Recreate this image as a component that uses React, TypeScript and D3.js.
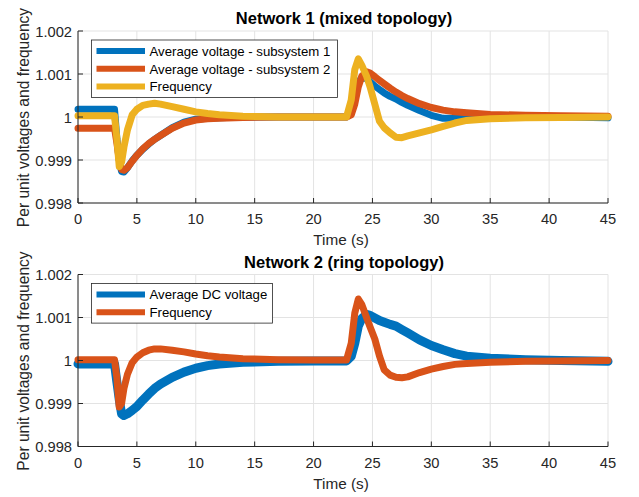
import React from 'react';
import * as d3 from 'd3';

// time samples (s) shared by every series
const time = [0, 3.1, 3.3, 3.5, 3.7, 3.9, 4.2, 4.6, 5, 5.5, 6, 6.5, 7, 8, 9, 10, 11, 12, 14, 17, 20, 22.8, 23.2, 23.5, 23.8, 24.1, 24.5, 24.8, 25.2, 25.6, 26, 26.5, 27, 27.5, 28, 29, 30, 31, 32, 33, 35, 38, 41, 45];

// Network 1 (mixed topology)
const net1Volt1 = [1.00018, 1.00018, 0.9995, 0.999, 0.99873, 0.99872, 0.99882, 0.99898, 0.99911, 0.99925, 0.99937, 0.99948, 0.99957, 0.99975, 0.99988, 0.99995, 0.99997, 0.99998, 1.0, 1.0, 1.0, 1.0, 1.0001, 1.0004, 1.0008, 1.00092, 1.0009, 1.00082, 1.00072, 1.00064, 1.00056, 1.00048, 1.00042, 1.00034, 1.00027, 1.00015, 1.00004, 0.99997, 0.99997, 0.99998, 0.99999, 1.0, 1.0, 0.99998];
const net1Volt2 = [0.99974, 0.99974, 0.9994, 0.999, 0.99878, 0.99876, 0.99882, 0.99897, 0.99911, 0.99926, 0.99938, 0.99948, 0.99957, 0.99974, 0.99986, 0.99993, 0.99996, 0.99997, 0.99999, 1.0, 1.0, 1.0, 1.00005, 1.0003, 1.0007, 1.00095, 1.00105, 1.00102, 1.00094, 1.00085, 1.00077, 1.00067, 1.00058, 1.0005, 1.00043, 1.00031, 1.00022, 1.00016, 1.00012, 1.0001, 1.00006, 1.00004, 1.00003, 1.00002];
const net1Freq = [1.00003, 1.00003, 0.9995, 0.99885, 0.99895, 0.9993, 0.9997, 1.00005, 1.00018, 1.00027, 1.0003, 1.00032, 1.0003, 1.00024, 1.00018, 1.00012, 1.00008, 1.00005, 1.00002, 1.0, 1.0, 1.0, 1.0004, 1.0011, 1.00135, 1.0012, 1.00095, 1.0007, 1.0003, 0.9999, 0.99975, 0.99963, 0.99953, 0.99952, 0.99956, 0.99963, 0.9997, 0.99978, 0.99986, 0.99992, 0.99996, 0.99998, 0.99999, 1.0];

// Network 2 (ring topology)
const net2Volt = [0.99992, 0.99992, 0.9995, 0.9991, 0.99876, 0.99872, 0.99876, 0.99884, 0.99893, 0.99908, 0.99922, 0.99935, 0.99945, 0.99961, 0.99973, 0.99982, 0.99988, 0.99992, 0.99996, 0.99998, 0.99999, 0.99999, 1.0001, 1.0004, 1.0008, 1.00098, 1.00107, 1.00105, 1.00099, 1.00093, 1.00089, 1.00084, 1.0008, 1.00072, 1.00064, 1.00048, 1.00035, 1.00025, 1.00016, 1.0001, 1.00005, 1.00002, 1.0, 0.99998];
const net2Freq = [1.00002, 1.00002, 0.9996, 0.99892, 0.999, 0.99935, 0.99968, 0.99995, 1.00008, 1.00018, 1.00024, 1.00027, 1.00027, 1.00024, 1.0002, 1.00015, 1.00011, 1.00008, 1.00004, 1.00002, 1.00001, 1.00001, 1.0004, 1.0011, 1.00143, 1.0013, 1.001, 1.00078, 1.0005, 1.0001, 0.99978, 0.99966, 0.99961, 0.9996, 0.99962, 0.99972, 0.9998, 0.99986, 0.99991, 0.99993, 0.99996, 0.99998, 0.99999, 1.0];

const xTicks = [0, 5, 10, 15, 20, 25, 30, 35, 40, 45];
const yTicks = [0.998, 0.999, 1, 1.001, 1.002];

const BLUE = '#0072BD';
const ORANGE = '#D95319';
const YELLOW = '#EDB120';
const FONT = 'Liberation Sans, Arial, Helvetica, sans-serif';

type Series = { name: string; values: number[]; color: string; width: number };

const Panel = ({ top, title, series, legendW }: { top: number; title: string; series: Series[]; legendW: number }) => {
  const left = 78, right = 608, h = 172;
  const x = d3.scaleLinear().domain([0, 45]).range([left, right]);
  const y = d3.scaleLinear().domain([0.998, 1.002]).range([top + h, top]);
  const line = d3.line<number>().x((_, i) => x(time[i])).y(d => y(d));

  const lgX = 91.5, lgY = top + 9;
  const rowH = 17.8;
  const lgH = series.length * rowH + 4;

  return (
    <g>
      {/* grid */}
      {xTicks.map(t => (
        <line key={'gx' + t} x1={x(t)} x2={x(t)} y1={top} y2={top + h} stroke="#e3e3e3" strokeWidth={1} />
      ))}
      {yTicks.map(t => (
        <line key={'gy' + t} x1={left} x2={right} y1={y(t)} y2={y(t)} stroke="#e3e3e3" strokeWidth={1} />
      ))}

      {series.map(s => (
        <path key={s.name} d={line(s.values) || ''} fill="none" stroke={s.color} strokeWidth={s.width}
          strokeLinejoin="round" strokeLinecap="round" />
      ))}

      {/* axes */}
      <line x1={left} x2={left} y1={top} y2={top + h} stroke="#262626" />
      <line x1={left} x2={right} y1={top + h} y2={top + h} stroke="#262626" />
      {xTicks.map(t => (
        <g key={'tx' + t}>
          <line x1={x(t)} x2={x(t)} y1={top + h} y2={top + h - 5} stroke="#262626" />
          <text x={x(t)} y={top + h + 21} textAnchor="middle" fontSize={14.7} fill="#262626" fontFamily={FONT}>{t}</text>
        </g>
      ))}
      {yTicks.map(t => (
        <g key={'ty' + t}>
          <line x1={left} x2={left + 5} y1={y(t)} y2={y(t)} stroke="#262626" />
          <text x={left - 6} y={y(t) + 5.5} textAnchor="end" fontSize={14.7} fill="#262626" fontFamily={FONT}>{d3.format('~g')(t)}</text>
        </g>
      ))}

      <text x={344} y={top - 7} textAnchor="middle" fontSize={16.5} fontWeight="bold" fill="#000" fontFamily={FONT}>{title}</text>
      <text x={341} y={top + h + 42} textAnchor="middle" fontSize={15.3} fill="#262626" fontFamily={FONT}>Time (s)</text>
      <text transform={`translate(29,${top + h / 2 + 0.5}) rotate(-90)`} textAnchor="middle" fontSize={15.6} fill="#262626" fontFamily={FONT}>
        Per unit voltages and frequency
      </text>

      {/* legend */}
      <rect x={lgX} y={lgY} width={legendW} height={lgH} fill="#fff" stroke="#262626" strokeWidth={0.8} />
      {series.map((s, i) => (
        <g key={'lg' + s.name}>
          <line x1={lgX + 5} x2={lgX + 53.5} y1={lgY + 11 + i * rowH} y2={lgY + 11 + i * rowH} stroke={s.color} strokeWidth={6} />
          <text x={lgX + 58} y={lgY + 15.7 + i * rowH} fontSize={13.2} fill="#000" fontFamily={FONT}>{s.name}</text>
        </g>
      ))}
    </g>
  );
};

export default function App() {
  return (
    <svg width={639} height={497} style={{ position: 'absolute', left: 0, top: 0, background: '#fff' }}>
      <Panel top={31} title="Network 1 (mixed topology)" legendW={246}
        series={[
          { name: 'Average voltage - subsystem 1', values: net1Volt1, color: BLUE, width: 7 },
          { name: 'Average voltage - subsystem 2', values: net1Volt2, color: ORANGE, width: 7 },
          { name: 'Frequency', values: net1Freq, color: YELLOW, width: 7 },
        ]} />
      <Panel top={274.5} title="Network 2 (ring topology)" legendW={181}
        series={[
          { name: 'Average DC voltage', values: net2Volt, color: BLUE, width: 9 },
          { name: 'Frequency', values: net2Freq, color: ORANGE, width: 7 },
        ]} />
    </svg>
  );
}
